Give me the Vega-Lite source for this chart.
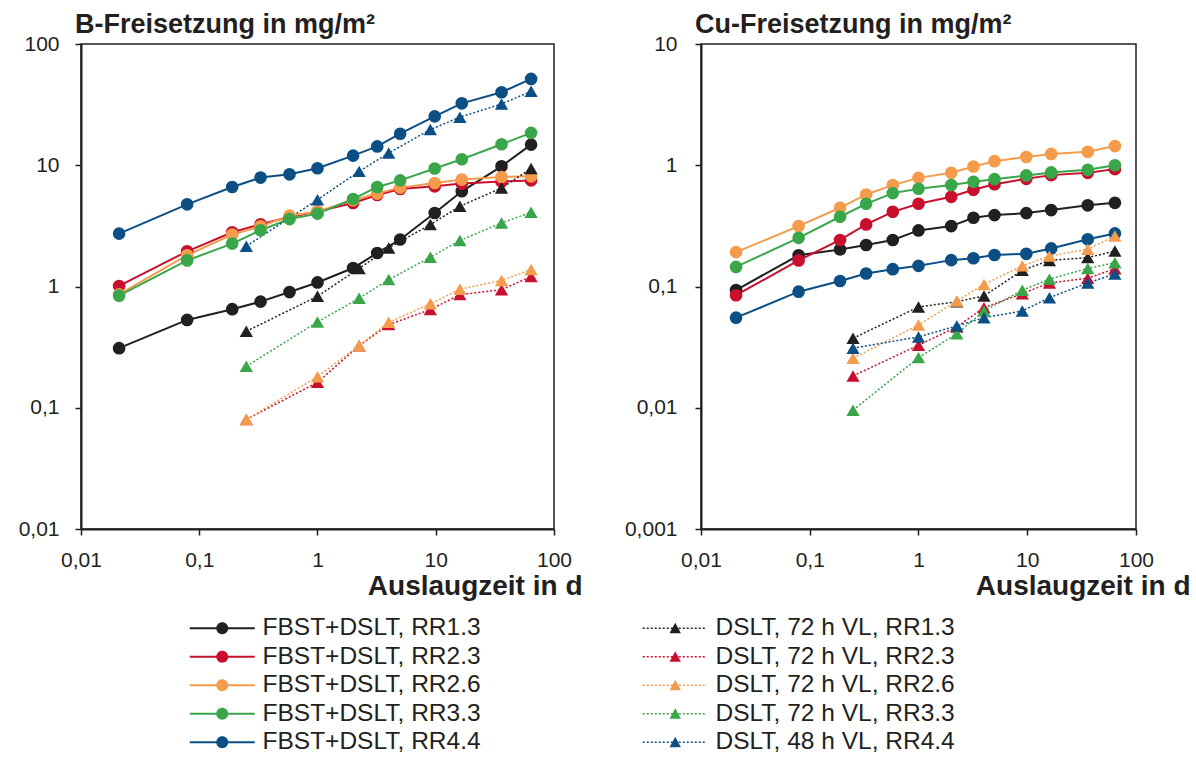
{
  "$schema": "https://vega.github.io/schema/vega-lite/v6.json",
  "background": "white",
  "padding": {"left": 17, "top": 10, "right": 4, "bottom": 2},
  "config": {
    "font": "Liberation Sans",
    "view": {"stroke": "#231f20", "strokeWidth": 1.5},
    "axis": {
      "grid": false, "domainColor": "#231f20", "domainWidth": 2,
      "tickColor": "#231f20", "tickWidth": 1.5, "tickSize": 6,
      "labelFontSize": 21, "labelColor": "#231f20", "labelFont": "Liberation Sans",
      "labelPadding": 14, "labelFlush": false, "labelOverlap": false,
      "titleFont": "Liberation Sans", "titleFontSize": 28, "titleFontWeight": "bold", "titleColor": "#231f20"
    },
    "legend": {"orient": "none", "title": null, "padding": 0, "rowPadding": 3.5, "labelFontSize": 24.5, "labelColor": "#231f20", "labelFont": "Liberation Sans", "labelOffset": 28, "labelLimit": 400, "symbolSize": 196, "symbolStrokeWidth": 0, "symbolOpacity": 1},
    "title": {"anchor": "start", "frame": "group", "fontSize": 27, "fontWeight": "bold", "color": "#231f20", "font": "Liberation Sans", "baseline": "alphabetic", "offset": 2, "dx": -6, "dy": 8}
  },
  "data": {"values": [
    {"p":"B","s":"FBST+DSLT, RR1.3","t":0.021,"v":0.31},{"p":"B","s":"FBST+DSLT, RR1.3","t":0.079,"v":0.53},{"p":"B","s":"FBST+DSLT, RR1.3","t":0.19,"v":0.65},{"p":"B","s":"FBST+DSLT, RR1.3","t":0.33,"v":0.75},{"p":"B","s":"FBST+DSLT, RR1.3","t":0.58,"v":0.9},{"p":"B","s":"FBST+DSLT, RR1.3","t":1.0,"v":1.08},{"p":"B","s":"FBST+DSLT, RR1.3","t":2.0,"v":1.42},{"p":"B","s":"FBST+DSLT, RR1.3","t":3.2,"v":1.89},{"p":"B","s":"FBST+DSLT, RR1.3","t":5.0,"v":2.44},{"p":"B","s":"FBST+DSLT, RR1.3","t":9.8,"v":4.04},{"p":"B","s":"FBST+DSLT, RR1.3","t":16.6,"v":6.1},{"p":"B","s":"FBST+DSLT, RR1.3","t":36,"v":9.8},{"p":"B","s":"FBST+DSLT, RR1.3","t":64,"v":14.8},
    {"p":"B","s":"FBST+DSLT, RR2.3","t":0.021,"v":1.01},{"p":"B","s":"FBST+DSLT, RR2.3","t":0.079,"v":1.95},{"p":"B","s":"FBST+DSLT, RR2.3","t":0.19,"v":2.8},{"p":"B","s":"FBST+DSLT, RR2.3","t":0.33,"v":3.26},{"p":"B","s":"FBST+DSLT, RR2.3","t":0.58,"v":3.74},{"p":"B","s":"FBST+DSLT, RR2.3","t":1.0,"v":4.15},{"p":"B","s":"FBST+DSLT, RR2.3","t":2.0,"v":4.88},{"p":"B","s":"FBST+DSLT, RR2.3","t":3.2,"v":5.68},{"p":"B","s":"FBST+DSLT, RR2.3","t":5.0,"v":6.37},{"p":"B","s":"FBST+DSLT, RR2.3","t":9.8,"v":6.7},{"p":"B","s":"FBST+DSLT, RR2.3","t":16.6,"v":7.06},{"p":"B","s":"FBST+DSLT, RR2.3","t":36,"v":7.33},{"p":"B","s":"FBST+DSLT, RR2.3","t":64,"v":7.5},
    {"p":"B","s":"FBST+DSLT, RR2.6","t":0.021,"v":0.86},{"p":"B","s":"FBST+DSLT, RR2.6","t":0.079,"v":1.81},{"p":"B","s":"FBST+DSLT, RR2.6","t":0.19,"v":2.68},{"p":"B","s":"FBST+DSLT, RR2.6","t":0.33,"v":3.14},{"p":"B","s":"FBST+DSLT, RR2.6","t":0.58,"v":3.84},{"p":"B","s":"FBST+DSLT, RR2.6","t":1.0,"v":4.15},{"p":"B","s":"FBST+DSLT, RR2.6","t":2.0,"v":5.14},{"p":"B","s":"FBST+DSLT, RR2.6","t":3.2,"v":5.84},{"p":"B","s":"FBST+DSLT, RR2.6","t":5.0,"v":6.54},{"p":"B","s":"FBST+DSLT, RR2.6","t":9.8,"v":7.14},{"p":"B","s":"FBST+DSLT, RR2.6","t":16.6,"v":7.62},{"p":"B","s":"FBST+DSLT, RR2.6","t":36,"v":8.0},{"p":"B","s":"FBST+DSLT, RR2.6","t":64,"v":8.1},
    {"p":"B","s":"FBST+DSLT, RR3.3","t":0.021,"v":0.84},{"p":"B","s":"FBST+DSLT, RR3.3","t":0.079,"v":1.64},{"p":"B","s":"FBST+DSLT, RR3.3","t":0.19,"v":2.26},{"p":"B","s":"FBST+DSLT, RR3.3","t":0.33,"v":2.91},{"p":"B","s":"FBST+DSLT, RR3.3","t":0.58,"v":3.6},{"p":"B","s":"FBST+DSLT, RR3.3","t":1.0,"v":3.99},{"p":"B","s":"FBST+DSLT, RR3.3","t":2.0,"v":5.27},{"p":"B","s":"FBST+DSLT, RR3.3","t":3.2,"v":6.62},{"p":"B","s":"FBST+DSLT, RR3.3","t":5.0,"v":7.5},{"p":"B","s":"FBST+DSLT, RR3.3","t":9.8,"v":9.4},{"p":"B","s":"FBST+DSLT, RR3.3","t":16.6,"v":11.2},{"p":"B","s":"FBST+DSLT, RR3.3","t":36,"v":14.9},{"p":"B","s":"FBST+DSLT, RR3.3","t":64,"v":18.5},
    {"p":"B","s":"FBST+DSLT, RR4.4","t":0.021,"v":2.73},{"p":"B","s":"FBST+DSLT, RR4.4","t":0.079,"v":4.76},{"p":"B","s":"FBST+DSLT, RR4.4","t":0.19,"v":6.62},{"p":"B","s":"FBST+DSLT, RR4.4","t":0.33,"v":7.91},{"p":"B","s":"FBST+DSLT, RR4.4","t":0.58,"v":8.42},{"p":"B","s":"FBST+DSLT, RR4.4","t":1.0,"v":9.44},{"p":"B","s":"FBST+DSLT, RR4.4","t":2.0,"v":12.0},{"p":"B","s":"FBST+DSLT, RR4.4","t":3.2,"v":14.3},{"p":"B","s":"FBST+DSLT, RR4.4","t":5.0,"v":18.2},{"p":"B","s":"FBST+DSLT, RR4.4","t":9.8,"v":25.3},{"p":"B","s":"FBST+DSLT, RR4.4","t":16.6,"v":32.4},{"p":"B","s":"FBST+DSLT, RR4.4","t":36,"v":40},{"p":"B","s":"FBST+DSLT, RR4.4","t":64,"v":51.5},
    {"p":"B","s":"DSLT, 72 h VL, RR1.3","t":0.25,"v":0.427},{"p":"B","s":"DSLT, 72 h VL, RR1.3","t":1,"v":0.83},{"p":"B","s":"DSLT, 72 h VL, RR1.3","t":2.25,"v":1.41},{"p":"B","s":"DSLT, 72 h VL, RR1.3","t":4,"v":2.08},{"p":"B","s":"DSLT, 72 h VL, RR1.3","t":9,"v":3.24},{"p":"B","s":"DSLT, 72 h VL, RR1.3","t":16,"v":4.59},{"p":"B","s":"DSLT, 72 h VL, RR1.3","t":36,"v":6.49},{"p":"B","s":"DSLT, 72 h VL, RR1.3","t":64,"v":9.4},
    {"p":"B","s":"DSLT, 72 h VL, RR2.3","t":0.25,"v":0.08},{"p":"B","s":"DSLT, 72 h VL, RR2.3","t":1,"v":0.162},{"p":"B","s":"DSLT, 72 h VL, RR2.3","t":2.25,"v":0.325},{"p":"B","s":"DSLT, 72 h VL, RR2.3","t":4,"v":0.485},{"p":"B","s":"DSLT, 72 h VL, RR2.3","t":9,"v":0.645},{"p":"B","s":"DSLT, 72 h VL, RR2.3","t":16,"v":0.857},{"p":"B","s":"DSLT, 72 h VL, RR2.3","t":36,"v":0.94},{"p":"B","s":"DSLT, 72 h VL, RR2.3","t":64,"v":1.21},
    {"p":"B","s":"DSLT, 72 h VL, RR2.6","t":0.25,"v":0.08},{"p":"B","s":"DSLT, 72 h VL, RR2.6","t":1,"v":0.18},{"p":"B","s":"DSLT, 72 h VL, RR2.6","t":2.25,"v":0.326},{"p":"B","s":"DSLT, 72 h VL, RR2.6","t":4,"v":0.507},{"p":"B","s":"DSLT, 72 h VL, RR2.6","t":9,"v":0.72},{"p":"B","s":"DSLT, 72 h VL, RR2.6","t":16,"v":0.95},{"p":"B","s":"DSLT, 72 h VL, RR2.6","t":36,"v":1.12},{"p":"B","s":"DSLT, 72 h VL, RR2.6","t":64,"v":1.38},
    {"p":"B","s":"DSLT, 72 h VL, RR3.3","t":0.25,"v":0.22},{"p":"B","s":"DSLT, 72 h VL, RR3.3","t":1,"v":0.51},{"p":"B","s":"DSLT, 72 h VL, RR3.3","t":2.25,"v":0.8},{"p":"B","s":"DSLT, 72 h VL, RR3.3","t":4,"v":1.14},{"p":"B","s":"DSLT, 72 h VL, RR3.3","t":9,"v":1.74},{"p":"B","s":"DSLT, 72 h VL, RR3.3","t":16,"v":2.4},{"p":"B","s":"DSLT, 72 h VL, RR3.3","t":36,"v":3.34},{"p":"B","s":"DSLT, 72 h VL, RR3.3","t":64,"v":4.09},
    {"p":"B","s":"DSLT, 48 h VL, RR4.4","t":0.25,"v":2.15},{"p":"B","s":"DSLT, 48 h VL, RR4.4","t":1,"v":5.2},{"p":"B","s":"DSLT, 48 h VL, RR4.4","t":2.25,"v":8.9},{"p":"B","s":"DSLT, 48 h VL, RR4.4","t":4,"v":12.6},{"p":"B","s":"DSLT, 48 h VL, RR4.4","t":9,"v":19.7},{"p":"B","s":"DSLT, 48 h VL, RR4.4","t":16,"v":24.9},{"p":"B","s":"DSLT, 48 h VL, RR4.4","t":36,"v":32},{"p":"B","s":"DSLT, 48 h VL, RR4.4","t":64,"v":40.7},
    {"p":"Cu","s":"FBST+DSLT, RR1.3","t":0.021,"v":0.0935},{"p":"Cu","s":"FBST+DSLT, RR1.3","t":0.079,"v":0.181},{"p":"Cu","s":"FBST+DSLT, RR1.3","t":0.19,"v":0.202},{"p":"Cu","s":"FBST+DSLT, RR1.3","t":0.33,"v":0.22},{"p":"Cu","s":"FBST+DSLT, RR1.3","t":0.58,"v":0.242},{"p":"Cu","s":"FBST+DSLT, RR1.3","t":1.0,"v":0.29},{"p":"Cu","s":"FBST+DSLT, RR1.3","t":2.0,"v":0.315},{"p":"Cu","s":"FBST+DSLT, RR1.3","t":3.2,"v":0.369},{"p":"Cu","s":"FBST+DSLT, RR1.3","t":5.0,"v":0.388},{"p":"Cu","s":"FBST+DSLT, RR1.3","t":9.8,"v":0.403},{"p":"Cu","s":"FBST+DSLT, RR1.3","t":16.6,"v":0.427},{"p":"Cu","s":"FBST+DSLT, RR1.3","t":36,"v":0.467},{"p":"Cu","s":"FBST+DSLT, RR1.3","t":64,"v":0.49},
    {"p":"Cu","s":"FBST+DSLT, RR2.3","t":0.021,"v":0.0847},{"p":"Cu","s":"FBST+DSLT, RR2.3","t":0.079,"v":0.164},{"p":"Cu","s":"FBST+DSLT, RR2.3","t":0.19,"v":0.242},{"p":"Cu","s":"FBST+DSLT, RR2.3","t":0.33,"v":0.325},{"p":"Cu","s":"FBST+DSLT, RR2.3","t":0.58,"v":0.413},{"p":"Cu","s":"FBST+DSLT, RR2.3","t":1.0,"v":0.481},{"p":"Cu","s":"FBST+DSLT, RR2.3","t":2.0,"v":0.549},{"p":"Cu","s":"FBST+DSLT, RR2.3","t":3.2,"v":0.627},{"p":"Cu","s":"FBST+DSLT, RR2.3","t":5.0,"v":0.698},{"p":"Cu","s":"FBST+DSLT, RR2.3","t":9.8,"v":0.773},{"p":"Cu","s":"FBST+DSLT, RR2.3","t":16.6,"v":0.829},{"p":"Cu","s":"FBST+DSLT, RR2.3","t":36,"v":0.866},{"p":"Cu","s":"FBST+DSLT, RR2.3","t":64,"v":0.929},
    {"p":"Cu","s":"FBST+DSLT, RR2.6","t":0.021,"v":0.192},{"p":"Cu","s":"FBST+DSLT, RR2.6","t":0.079,"v":0.315},{"p":"Cu","s":"FBST+DSLT, RR2.6","t":0.19,"v":0.446},{"p":"Cu","s":"FBST+DSLT, RR2.6","t":0.33,"v":0.574},{"p":"Cu","s":"FBST+DSLT, RR2.6","t":0.58,"v":0.686},{"p":"Cu","s":"FBST+DSLT, RR2.6","t":1.0,"v":0.787},{"p":"Cu","s":"FBST+DSLT, RR2.6","t":2.0,"v":0.866},{"p":"Cu","s":"FBST+DSLT, RR2.6","t":3.2,"v":0.977},{"p":"Cu","s":"FBST+DSLT, RR2.6","t":5.0,"v":1.08},{"p":"Cu","s":"FBST+DSLT, RR2.6","t":9.8,"v":1.17},{"p":"Cu","s":"FBST+DSLT, RR2.6","t":16.6,"v":1.24},{"p":"Cu","s":"FBST+DSLT, RR2.6","t":36,"v":1.29},{"p":"Cu","s":"FBST+DSLT, RR2.6","t":64,"v":1.44},
    {"p":"Cu","s":"FBST+DSLT, RR3.3","t":0.021,"v":0.145},{"p":"Cu","s":"FBST+DSLT, RR3.3","t":0.079,"v":0.252},{"p":"Cu","s":"FBST+DSLT, RR3.3","t":0.19,"v":0.376},{"p":"Cu","s":"FBST+DSLT, RR3.3","t":0.33,"v":0.481},{"p":"Cu","s":"FBST+DSLT, RR3.3","t":0.58,"v":0.589},{"p":"Cu","s":"FBST+DSLT, RR3.3","t":1.0,"v":0.64},{"p":"Cu","s":"FBST+DSLT, RR3.3","t":2.0,"v":0.686},{"p":"Cu","s":"FBST+DSLT, RR3.3","t":3.2,"v":0.73},{"p":"Cu","s":"FBST+DSLT, RR3.3","t":5.0,"v":0.768},{"p":"Cu","s":"FBST+DSLT, RR3.3","t":9.8,"v":0.824},{"p":"Cu","s":"FBST+DSLT, RR3.3","t":16.6,"v":0.873},{"p":"Cu","s":"FBST+DSLT, RR3.3","t":36,"v":0.917},{"p":"Cu","s":"FBST+DSLT, RR3.3","t":64,"v":1.0},
    {"p":"Cu","s":"FBST+DSLT, RR4.4","t":0.021,"v":0.0553},{"p":"Cu","s":"FBST+DSLT, RR4.4","t":0.079,"v":0.0906},{"p":"Cu","s":"FBST+DSLT, RR4.4","t":0.19,"v":0.111},{"p":"Cu","s":"FBST+DSLT, RR4.4","t":0.33,"v":0.128},{"p":"Cu","s":"FBST+DSLT, RR4.4","t":0.58,"v":0.139},{"p":"Cu","s":"FBST+DSLT, RR4.4","t":1.0,"v":0.148},{"p":"Cu","s":"FBST+DSLT, RR4.4","t":2.0,"v":0.165},{"p":"Cu","s":"FBST+DSLT, RR4.4","t":3.2,"v":0.171},{"p":"Cu","s":"FBST+DSLT, RR4.4","t":5.0,"v":0.182},{"p":"Cu","s":"FBST+DSLT, RR4.4","t":9.8,"v":0.186},{"p":"Cu","s":"FBST+DSLT, RR4.4","t":16.6,"v":0.206},{"p":"Cu","s":"FBST+DSLT, RR4.4","t":36,"v":0.245},{"p":"Cu","s":"FBST+DSLT, RR4.4","t":64,"v":0.274},
    {"p":"Cu","s":"DSLT, 72 h VL, RR1.3","t":0.25,"v":0.0374},{"p":"Cu","s":"DSLT, 72 h VL, RR1.3","t":1,"v":0.0678},{"p":"Cu","s":"DSLT, 72 h VL, RR1.3","t":2.25,"v":0.075},{"p":"Cu","s":"DSLT, 72 h VL, RR1.3","t":4,"v":0.0835},{"p":"Cu","s":"DSLT, 72 h VL, RR1.3","t":9,"v":0.136},{"p":"Cu","s":"DSLT, 72 h VL, RR1.3","t":16,"v":0.164},{"p":"Cu","s":"DSLT, 72 h VL, RR1.3","t":36,"v":0.173},{"p":"Cu","s":"DSLT, 72 h VL, RR1.3","t":64,"v":0.196},
    {"p":"Cu","s":"DSLT, 72 h VL, RR2.3","t":0.25,"v":0.0183},{"p":"Cu","s":"DSLT, 72 h VL, RR2.3","t":1,"v":0.0328},{"p":"Cu","s":"DSLT, 72 h VL, RR2.3","t":2.25,"v":0.0464},{"p":"Cu","s":"DSLT, 72 h VL, RR2.3","t":4,"v":0.0669},{"p":"Cu","s":"DSLT, 72 h VL, RR2.3","t":9,"v":0.0873},{"p":"Cu","s":"DSLT, 72 h VL, RR2.3","t":16,"v":0.107},{"p":"Cu","s":"DSLT, 72 h VL, RR2.3","t":36,"v":0.117},{"p":"Cu","s":"DSLT, 72 h VL, RR2.3","t":64,"v":0.14},
    {"p":"Cu","s":"DSLT, 72 h VL, RR2.6","t":0.25,"v":0.0256},{"p":"Cu","s":"DSLT, 72 h VL, RR2.6","t":1,"v":0.0482},{"p":"Cu","s":"DSLT, 72 h VL, RR2.6","t":2.25,"v":0.076},{"p":"Cu","s":"DSLT, 72 h VL, RR2.6","t":4,"v":0.104},{"p":"Cu","s":"DSLT, 72 h VL, RR2.6","t":9,"v":0.148},{"p":"Cu","s":"DSLT, 72 h VL, RR2.6","t":16,"v":0.178},{"p":"Cu","s":"DSLT, 72 h VL, RR2.6","t":36,"v":0.203},{"p":"Cu","s":"DSLT, 72 h VL, RR2.6","t":64,"v":0.261},
    {"p":"Cu","s":"DSLT, 72 h VL, RR3.3","t":0.25,"v":0.00955},{"p":"Cu","s":"DSLT, 72 h VL, RR3.3","t":1,"v":0.0259},{"p":"Cu","s":"DSLT, 72 h VL, RR3.3","t":2.25,"v":0.0408},{"p":"Cu","s":"DSLT, 72 h VL, RR3.3","t":4,"v":0.0628},{"p":"Cu","s":"DSLT, 72 h VL, RR3.3","t":9,"v":0.093},{"p":"Cu","s":"DSLT, 72 h VL, RR3.3","t":16,"v":0.115},{"p":"Cu","s":"DSLT, 72 h VL, RR3.3","t":36,"v":0.141},{"p":"Cu","s":"DSLT, 72 h VL, RR3.3","t":64,"v":0.157},
    {"p":"Cu","s":"DSLT, 48 h VL, RR4.4","t":0.25,"v":0.031},{"p":"Cu","s":"DSLT, 48 h VL, RR4.4","t":1,"v":0.0384},{"p":"Cu","s":"DSLT, 48 h VL, RR4.4","t":2.25,"v":0.0473},{"p":"Cu","s":"DSLT, 48 h VL, RR4.4","t":4,"v":0.0553},{"p":"Cu","s":"DSLT, 48 h VL, RR4.4","t":9,"v":0.0628},{"p":"Cu","s":"DSLT, 48 h VL, RR4.4","t":16,"v":0.0809},{"p":"Cu","s":"DSLT, 48 h VL, RR4.4","t":36,"v":0.107},{"p":"Cu","s":"DSLT, 48 h VL, RR4.4","t":64,"v":0.127}
  ]},
  "spacing": 147,
  "bounds": "flush",
  "resolve": {"scale": {"color": "shared", "fill": "shared", "stroke": "shared", "x": "independent", "y": "independent"}, "legend": {"color": "shared", "fill": "shared", "stroke": "shared"}},
  "hconcat": [
    {
      "width": 473, "height": 485,
      "title": {"text": "B-Freisetzung in mg/m²"},
      "transform": [{"filter": "datum.p === 'B'"}],
      "encoding": {
        "x": {"field": "t", "type": "quantitative", "scale": {"type": "log", "domain": [0.01, 100], "nice": false},
              "axis": {"values": [0.01, 0.1, 1, 10, 100], "labelExpr": "replace(format(datum.value, '~g'), '.', ',')", "title": "Auslaugzeit in d", "titleX": 501, "titleY": 65, "titleAlign": "right", "titleBaseline": "alphabetic"}},
        "y": {"field": "v", "type": "quantitative", "scale": {"type": "log", "domain": [0.01, 100], "nice": false},
              "axis": {"values": [0.01, 0.1, 1, 10, 100], "labelExpr": "replace(format(datum.value, '~g'), '.', ',')", "title": null, "labelPadding": 16}}
      },
      "layer": [
        {"transform": [{"filter": "indexof(datum.s,'FBST')===0"}], "mark": {"type": "line", "strokeWidth": 2},
         "encoding": {"color": {"field": "s", "type": "nominal",
           "scale": {"domain": ["FBST+DSLT, RR1.3", "FBST+DSLT, RR2.3", "FBST+DSLT, RR2.6", "FBST+DSLT, RR3.3", "FBST+DSLT, RR4.4"], "range": ["#231f20", "#c8102e", "#f49c4c", "#3aa64a", "#0b4f85"]},
           "legend": {"legendX": 129, "legendY": 572, "symbolType": "M-4.643,-0.143H4.643V0.143H-4.643ZM0.857,0A0.857,0.857,0,1,1,-0.857,0A0.857,0.857,0,1,1,0.857,0Z"}}}},
        {"transform": [{"filter": "indexof(datum.s,'DSLT')===0"}], "mark": {"type": "line", "strokeWidth": 1.5, "strokeDash": [2, 2]},
         "encoding": {"stroke": {"field": "s", "type": "nominal",
           "scale": {"domain": ["DSLT, 72 h VL, RR1.3", "DSLT, 72 h VL, RR2.3", "DSLT, 72 h VL, RR2.6", "DSLT, 72 h VL, RR3.3", "DSLT, 48 h VL, RR4.4"], "range": ["#231f20", "#c8102e", "#f49c4c", "#3aa64a", "#0b4f85"]},
           "legend": {"legendX": 582, "legendY": 572, "symbolType": "M-4.643,-0.107h0.286v0.214h-0.286ZM-4.071,-0.107h0.286v0.214h-0.286ZM-3.5,-0.107h0.286v0.214h-0.286ZM-2.929,-0.107h0.286v0.214h-0.286ZM-2.357,-0.107h0.286v0.214h-0.286ZM-1.786,-0.107h0.286v0.214h-0.286ZM-1.214,-0.107h0.286v0.214h-0.286ZM-0.643,-0.107h0.286v0.214h-0.286ZM-0.071,-0.107h0.286v0.214h-0.286ZM0.5,-0.107h0.286v0.214h-0.286ZM1.071,-0.107h0.286v0.214h-0.286ZM1.643,-0.107h0.286v0.214h-0.286ZM2.214,-0.107h0.286v0.214h-0.286ZM2.786,-0.107h0.286v0.214h-0.286ZM3.357,-0.107h0.286v0.214h-0.286ZM3.929,-0.107h0.286v0.214h-0.286ZM0,-0.786L0.81,0.714L-0.81,0.714Z"}}}},
        {"transform": [{"filter": "indexof(datum.s,'FBST')===0"}], "mark": {"type": "point", "shape": "circle", "filled": true, "size": 160, "opacity": 1},
         "encoding": {"color": {"field": "s", "type": "nominal",
           "scale": {"domain": ["FBST+DSLT, RR1.3", "FBST+DSLT, RR2.3", "FBST+DSLT, RR2.6", "FBST+DSLT, RR3.3", "FBST+DSLT, RR4.4"], "range": ["#231f20", "#c8102e", "#f49c4c", "#3aa64a", "#0b4f85"]},
           "legend": {"legendX": 129, "legendY": 572, "symbolType": "M-4.643,-0.143H4.643V0.143H-4.643ZM0.857,0A0.857,0.857,0,1,1,-0.857,0A0.857,0.857,0,1,1,0.857,0Z"}}}},
        {"transform": [{"filter": "indexof(datum.s,'DSLT')===0"}], "mark": {"type": "point", "shape": "triangle-up", "filled": true, "size": 175, "opacity": 1},
         "encoding": {"fill": {"field": "s", "type": "nominal",
           "scale": {"domain": ["DSLT, 72 h VL, RR1.3", "DSLT, 72 h VL, RR2.3", "DSLT, 72 h VL, RR2.6", "DSLT, 72 h VL, RR3.3", "DSLT, 48 h VL, RR4.4"], "range": ["#231f20", "#c8102e", "#f49c4c", "#3aa64a", "#0b4f85"]},
           "legend": {"legendX": 582, "legendY": 572, "symbolType": "M-4.643,-0.107h0.286v0.214h-0.286ZM-4.071,-0.107h0.286v0.214h-0.286ZM-3.5,-0.107h0.286v0.214h-0.286ZM-2.929,-0.107h0.286v0.214h-0.286ZM-2.357,-0.107h0.286v0.214h-0.286ZM-1.786,-0.107h0.286v0.214h-0.286ZM-1.214,-0.107h0.286v0.214h-0.286ZM-0.643,-0.107h0.286v0.214h-0.286ZM-0.071,-0.107h0.286v0.214h-0.286ZM0.5,-0.107h0.286v0.214h-0.286ZM1.071,-0.107h0.286v0.214h-0.286ZM1.643,-0.107h0.286v0.214h-0.286ZM2.214,-0.107h0.286v0.214h-0.286ZM2.786,-0.107h0.286v0.214h-0.286ZM3.357,-0.107h0.286v0.214h-0.286ZM3.929,-0.107h0.286v0.214h-0.286ZM0,-0.786L0.81,0.714L-0.81,0.714Z"}}}}
      ]
    },
    {
      "width": 435, "height": 485,
      "title": {"text": "Cu-Freisetzung in mg/m²"},
      "transform": [{"filter": "datum.p === 'Cu'"}],
      "encoding": {
        "x": {"field": "t", "type": "quantitative", "scale": {"type": "log", "domain": [0.01, 100], "nice": false},
              "axis": {"values": [0.01, 0.1, 1, 10, 100], "labelExpr": "replace(format(datum.value, '~g'), '.', ',')", "title": "Auslaugzeit in d", "titleX": 489, "titleY": 65, "titleAlign": "right", "titleBaseline": "alphabetic"}},
        "y": {"field": "v", "type": "quantitative", "scale": {"type": "log", "domain": [0.001, 10], "nice": false},
              "axis": {"values": [0.001, 0.01, 0.1, 1, 10], "labelExpr": "replace(format(datum.value, '~g'), '.', ',')", "title": null, "labelPadding": 18}}
      },
      "layer": [
        {"transform": [{"filter": "indexof(datum.s,'FBST')===0"}], "mark": {"type": "line", "strokeWidth": 2},
         "encoding": {"color": {"field": "s", "type": "nominal",
           "scale": {"domain": ["FBST+DSLT, RR1.3", "FBST+DSLT, RR2.3", "FBST+DSLT, RR2.6", "FBST+DSLT, RR3.3", "FBST+DSLT, RR4.4"], "range": ["#231f20", "#c8102e", "#f49c4c", "#3aa64a", "#0b4f85"]},
           "legend": {"legendX": 129, "legendY": 572, "symbolType": "M-4.643,-0.143H4.643V0.143H-4.643ZM0.857,0A0.857,0.857,0,1,1,-0.857,0A0.857,0.857,0,1,1,0.857,0Z"}}}},
        {"transform": [{"filter": "indexof(datum.s,'DSLT')===0"}], "mark": {"type": "line", "strokeWidth": 1.5, "strokeDash": [2, 2]},
         "encoding": {"stroke": {"field": "s", "type": "nominal",
           "scale": {"domain": ["DSLT, 72 h VL, RR1.3", "DSLT, 72 h VL, RR2.3", "DSLT, 72 h VL, RR2.6", "DSLT, 72 h VL, RR3.3", "DSLT, 48 h VL, RR4.4"], "range": ["#231f20", "#c8102e", "#f49c4c", "#3aa64a", "#0b4f85"]},
           "legend": {"legendX": 582, "legendY": 572, "symbolType": "M-4.643,-0.107h0.286v0.214h-0.286ZM-4.071,-0.107h0.286v0.214h-0.286ZM-3.5,-0.107h0.286v0.214h-0.286ZM-2.929,-0.107h0.286v0.214h-0.286ZM-2.357,-0.107h0.286v0.214h-0.286ZM-1.786,-0.107h0.286v0.214h-0.286ZM-1.214,-0.107h0.286v0.214h-0.286ZM-0.643,-0.107h0.286v0.214h-0.286ZM-0.071,-0.107h0.286v0.214h-0.286ZM0.5,-0.107h0.286v0.214h-0.286ZM1.071,-0.107h0.286v0.214h-0.286ZM1.643,-0.107h0.286v0.214h-0.286ZM2.214,-0.107h0.286v0.214h-0.286ZM2.786,-0.107h0.286v0.214h-0.286ZM3.357,-0.107h0.286v0.214h-0.286ZM3.929,-0.107h0.286v0.214h-0.286ZM0,-0.786L0.81,0.714L-0.81,0.714Z"}}}},
        {"transform": [{"filter": "indexof(datum.s,'FBST')===0"}], "mark": {"type": "point", "shape": "circle", "filled": true, "size": 160, "opacity": 1},
         "encoding": {"color": {"field": "s", "type": "nominal",
           "scale": {"domain": ["FBST+DSLT, RR1.3", "FBST+DSLT, RR2.3", "FBST+DSLT, RR2.6", "FBST+DSLT, RR3.3", "FBST+DSLT, RR4.4"], "range": ["#231f20", "#c8102e", "#f49c4c", "#3aa64a", "#0b4f85"]},
           "legend": {"legendX": 129, "legendY": 572, "symbolType": "M-4.643,-0.143H4.643V0.143H-4.643ZM0.857,0A0.857,0.857,0,1,1,-0.857,0A0.857,0.857,0,1,1,0.857,0Z"}}}},
        {"transform": [{"filter": "indexof(datum.s,'DSLT')===0"}], "mark": {"type": "point", "shape": "triangle-up", "filled": true, "size": 175, "opacity": 1},
         "encoding": {"fill": {"field": "s", "type": "nominal",
           "scale": {"domain": ["DSLT, 72 h VL, RR1.3", "DSLT, 72 h VL, RR2.3", "DSLT, 72 h VL, RR2.6", "DSLT, 72 h VL, RR3.3", "DSLT, 48 h VL, RR4.4"], "range": ["#231f20", "#c8102e", "#f49c4c", "#3aa64a", "#0b4f85"]},
           "legend": {"legendX": 582, "legendY": 572, "symbolType": "M-4.643,-0.107h0.286v0.214h-0.286ZM-4.071,-0.107h0.286v0.214h-0.286ZM-3.5,-0.107h0.286v0.214h-0.286ZM-2.929,-0.107h0.286v0.214h-0.286ZM-2.357,-0.107h0.286v0.214h-0.286ZM-1.786,-0.107h0.286v0.214h-0.286ZM-1.214,-0.107h0.286v0.214h-0.286ZM-0.643,-0.107h0.286v0.214h-0.286ZM-0.071,-0.107h0.286v0.214h-0.286ZM0.5,-0.107h0.286v0.214h-0.286ZM1.071,-0.107h0.286v0.214h-0.286ZM1.643,-0.107h0.286v0.214h-0.286ZM2.214,-0.107h0.286v0.214h-0.286ZM2.786,-0.107h0.286v0.214h-0.286ZM3.357,-0.107h0.286v0.214h-0.286ZM3.929,-0.107h0.286v0.214h-0.286ZM0,-0.786L0.81,0.714L-0.81,0.714Z"}}}}
      ]
    }
  ]
}
